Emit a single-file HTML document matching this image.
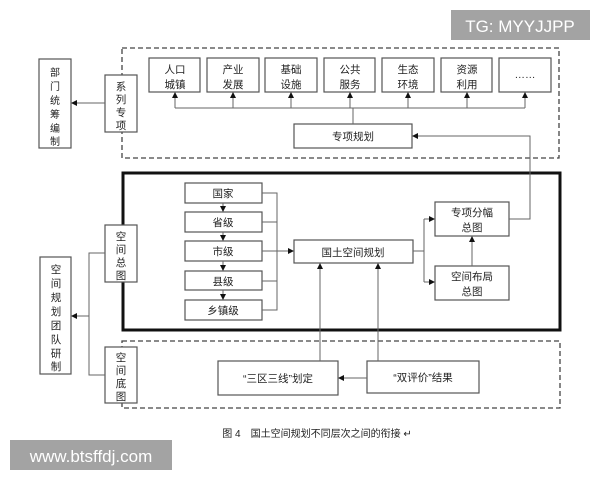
<!DOCTYPE html>
<html><head><meta charset="utf-8"><style>
html,body{margin:0;padding:0;background:#fff;width:600px;height:480px;overflow:hidden}
svg text{font-family:"Liberation Sans","Noto Sans CJK SC",sans-serif;fill:#222}
</style></head><body>
<svg width="600" height="480" viewBox="0 0 600 480" xmlns="http://www.w3.org/2000/svg">
<defs><marker id="a" markerWidth="6" markerHeight="6" refX="5" refY="3" orient="auto" markerUnits="userSpaceOnUse"><path d="M0,0 L6,3 L0,6 z" fill="#111"/></marker></defs>
<g fill="none" stroke="#444" stroke-width="1.3" stroke-dasharray="5,3">
<rect x="122" y="48" width="437" height="110"/>
<rect x="122" y="341" width="438" height="67"/>
</g>
<rect x="123" y="173" width="437" height="157" fill="none" stroke="#111" stroke-width="3"/>
<g fill="#fff" stroke="#555" stroke-width="1.2">
<rect x="39" y="59" width="32" height="89"/>
<rect x="105" y="75" width="32" height="57"/>
<rect x="149" y="58" width="51" height="34"/><rect x="207" y="58" width="52" height="34"/>
<rect x="265" y="58" width="52" height="34"/><rect x="324" y="58" width="51" height="34"/>
<rect x="382" y="58" width="52" height="34"/><rect x="441" y="58" width="51" height="34"/>
<rect x="499" y="58" width="52" height="34"/>
<rect x="294" y="124" width="118" height="24"/>
<rect x="105" y="225" width="32" height="57"/>
<rect x="40" y="257" width="31" height="117"/>
<rect x="105" y="347" width="32" height="56"/>
<rect x="185" y="183" width="77" height="20"/><rect x="185" y="212" width="77" height="20"/>
<rect x="185" y="241" width="77" height="20"/><rect x="185" y="271" width="77" height="19"/>
<rect x="185" y="300" width="77" height="20"/>
<rect x="294" y="240" width="119" height="23"/>
<rect x="435" y="202" width="74" height="34"/><rect x="435" y="266" width="74" height="34"/>
<rect x="218" y="361" width="120" height="34"/><rect x="367" y="361" width="112" height="32"/>
</g>
<g fill="none" stroke="#666" stroke-width="1">
<path d="M175,108 H525"/>
<path d="M175,108 V93" marker-end="url(#a)"/><path d="M233,108 V93" marker-end="url(#a)"/>
<path d="M291,108 V93" marker-end="url(#a)"/><path d="M350,108 V93" marker-end="url(#a)"/>
<path d="M408,108 V93" marker-end="url(#a)"/><path d="M467,108 V93" marker-end="url(#a)"/>
<path d="M525,108 V93" marker-end="url(#a)"/>
<path d="M353,124 V108"/>
<path d="M105,103 H72" marker-end="url(#a)"/>
<path d="M509,219 H530 V136 H413" marker-end="url(#a)"/>
<path d="M262,193 H277 V310 H262 M262,222 H277 M262,281 H277"/>
<path d="M262,251 H293" marker-end="url(#a)"/>
<path d="M223,203 V211" marker-end="url(#a)"/><path d="M223,232 V240" marker-end="url(#a)"/>
<path d="M223,261 V270" marker-end="url(#a)"/><path d="M223,290 V299" marker-end="url(#a)"/>
<path d="M413,251 H424"/>
<path d="M424,219 V282"/>
<path d="M424,219 H434" marker-end="url(#a)"/><path d="M424,282 H434" marker-end="url(#a)"/>
<path d="M472,266 V237" marker-end="url(#a)"/>
<path d="M320,361 V264" marker-end="url(#a)"/><path d="M378,361 V264" marker-end="url(#a)"/>
<path d="M367,378 H339" marker-end="url(#a)"/>
<path d="M105,253 H89 V375 H105"/><path d="M89,316 H72" marker-end="url(#a)"/>
</g>
<g font-size="10.5" text-anchor="middle">
<g font-size="10"><text x="55" y="76">部</text><text x="55" y="90">门</text><text x="55" y="104">统</text><text x="55" y="118">筹</text><text x="55" y="132">编</text><text x="55" y="145">制</text></g>
<text x="121" y="90">系</text><text x="121" y="103">列</text><text x="121" y="116">专</text><text x="121" y="129">项</text>
<text x="175" y="73">人口</text><text x="175" y="88">城镇</text>
<text x="233" y="73">产业</text><text x="233" y="88">发展</text>
<text x="291" y="73">基础</text><text x="291" y="88">设施</text>
<text x="350" y="73">公共</text><text x="350" y="88">服务</text>
<text x="408" y="73">生态</text><text x="408" y="88">环境</text>
<text x="467" y="73">资源</text><text x="467" y="88">利用</text>
<text x="525" y="78">……</text>
<text x="353" y="140">专项规划</text>
<text x="121" y="240">空</text><text x="121" y="253">间</text><text x="121" y="266">总</text><text x="121" y="279">图</text>
<text x="56" y="273">空</text><text x="56" y="287">间</text><text x="56" y="301">规</text><text x="56" y="315">划</text><text x="56" y="329">团</text><text x="56" y="343">队</text><text x="56" y="357">研</text><text x="56" y="370">制</text>
<text x="121" y="361">空</text><text x="121" y="374">间</text><text x="121" y="387">底</text><text x="121" y="400">图</text>
<text x="223" y="197">国家</text><text x="223" y="226">省级</text><text x="223" y="255">市级</text><text x="223" y="285">县级</text><text x="223" y="314">乡镇级</text>
<text x="353" y="256">国土空间规划</text>
<text x="472" y="216">专项分幅</text><text x="472" y="231">总图</text>
<text x="472" y="280">空间布局</text><text x="472" y="295">总图</text>
<text x="278" y="382">“三区三线”划定</text><text x="423" y="381">“双评价”结果</text>
<text x="317" y="437" font-size="10" fill="#333">图 4　国土空间规划不同层次之间的衔接 ↵</text>
</g>
<rect x="451" y="10" width="139" height="30" fill="#a3a3a3"/>
<text x="520" y="32" font-size="17" text-anchor="middle" style="fill:#fff">TG: MYYJJPP</text>
<rect x="10" y="440" width="162" height="30" fill="#a3a3a3"/>
<text x="91" y="462" font-size="17" text-anchor="middle" style="fill:#fff">www.btsffdj.com</text>
</svg>
</body></html>
